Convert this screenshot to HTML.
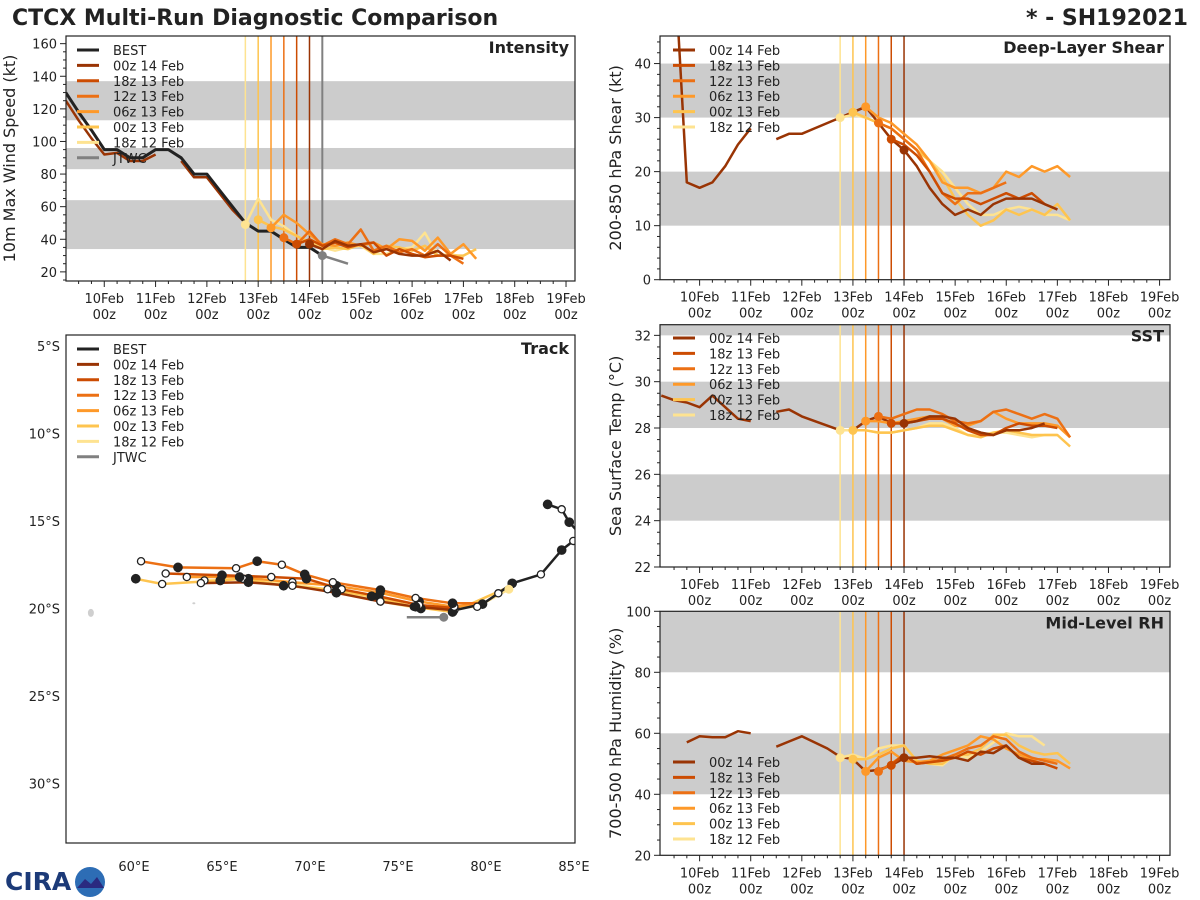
<!DOCTYPE html>
<html><head><meta charset="utf-8"><style>
html,body{margin:0;padding:0;background:#fff;}
svg{display:block;font-family:"DejaVu Sans","Liberation Sans",sans-serif;}
</style></head><body>
<svg id="chart" xmlns="http://www.w3.org/2000/svg" width="1200" height="900" viewBox="0 0 1200 900">
<text x="12" y="25" font-size="22" font-weight="bold" fill="#222">CTCX Multi-Run Diagnostic Comparison</text>
<text x="1188" y="25" font-size="22" font-weight="bold" fill="#222" text-anchor="end">* - SH192021</text>
<g>
<text x="5" y="890" font-size="25" font-weight="bold" fill="#1c3a78">CIRA</text>
<circle cx="90" cy="882" r="15" fill="#2d6db5"/>
<path d="M77 888 L85 879 L91 884 L97 877 L104 888 Z" fill="#2a2a80"/>
</g>
</svg>
<script>
const svg = document.getElementById('chart');
const NS = 'http://www.w3.org/2000/svg';
function mk(tag, attrs, parent){ const e=document.createElementNS(NS,tag); for(const k in attrs) e.setAttribute(k,attrs[k]); (parent||svg).appendChild(e); return e; }

// ---------- shared data ----------
const runLabels = ['00z 14 Feb','18z 13 Feb','12z 13 Feb','06z 13 Feb','00z 13 Feb','18z 12 Feb'];
const runColors = ['#993404','#cc4c02','#ec7014','#fe9929','#fec44f','#fee391'];
const runInit = [96,90,84,78,72,66];
const dayLabels = ['10Feb','11Feb','12Feb','13Feb','14Feb','15Feb','16Feb','17Feb','18Feb','19Feb'];

// Intensity (kt)
const bestTimes = [-18,-12,-6,0,6,12,18,24,30,36,42,48,54,60,66,72,78,84,90,96,102];
const bestVmax = [130,118,107,95,95,90,90,95,95,90,80,80,70,60,50,45,45,40,35,35,30];
const jtwcTimes = [102,114];
const jtwcVmax = [30,25];
const intHist = [125,113,102,92,93,88,88,92,null,88,78,78,68,58,50]; // from -18 step 6
const intRuns = [
 [37,34,39,36,37,32,34,31,30,30,33,27],
 [37,40,36,38,35,37,38,30,34,31,29,30,30,28],
 [41,37,45,36,40,37,46,33,36,32,34,30,37,30,25],
 [47,55,50,43,37,36,38,36,38,34,40,39,33,41,31,37,28],
 [52,48,46,42,38,34,35,34,37,31,36,35,33,36,30,30,30,34],
 [49,65,52,48,42,38,35,33,35,36,31,31,34,35,44,30,31,29]
];
// Shear (kt)
const shrHist = [60,18,17,18,21,25,28,null,26,27,27,28,29,30,31,32,29,26,24]; // from -12 step 6
const shrRuns = [
 [24,21,17,14,12,13,12,14,15,15,15,14,13],
 [26,25,23,20,16,15,15,14,15,16,15,16,14,13],
 [29,28,26,24,20,16,14,16,16,17,18],
 [32,30,29,27,25,22,18,17,17,16,17,20,19,21,20,21,19],
 [31,30,29,28,26,24,22,19,15,12,10,11,13,12,13,12,14,11],
 [30,30.5,30,29,28,26,24,22,20,17,14,12,12,13,13.5,13,12,12,11]
];
// SST (C)
const sstHist = [29.4,29.2,29.1,28.9,29.4,28.9,28.4,28.3,null,28.7,28.8,28.5,28.3,28.1,27.9,27.9,28.3,28.5,28.2,28.2]; // from -18
const sstRuns = [
 [28.2,28.3,28.5,28.5,28.4,28.0,27.8,27.7,27.9,27.9,28.0,28.2],
 [28.2,28.2,28.3,28.4,28.4,28.2,27.9,27.7,27.7,28.0,28.2,28.1,28.1,28.0],
 [28.5,28.4,28.6,28.8,28.8,28.6,28.3,28.2,28.3,28.7,28.8,28.6,28.4,28.6,28.4,27.6],
 [28.3,28.3,28.2,28.3,28.4,28.5,28.4,28.1,28.1,28.3,28.7,28.4,28.2,28.2,28.2,28.1,27.6],
 [27.9,27.9,27.8,27.8,27.9,28.0,28.1,28.1,27.9,27.7,27.6,27.8,27.9,27.8,27.7,27.7,27.7,27.2],
 [27.9,27.9,27.9,27.8,27.8,27.9,28.0,28.2,28.2,28.0,27.7,27.7,27.8,27.8,27.7,27.6,27.7,27.7]
];
// RH (%)
const rhHist = [57,59,58.7,58.7,60.7,60,null,55.6,57.3,59,57,55,52.3,51.5,47.5,48,49.5,51.8]; // from -6
const rhRuns = [
 [52,52,52.5,52,52,51,54,53.5,56,52,50,50],
 [49.5,53,50,50.5,51,52,54,53,55,56,52,51,50,48.5],
 [47.5,50,53,50,50.5,51.5,53,55,56,59,58,54,52,51,50],
 [47.5,52,54,51,50.5,51,53,54.5,56,59,58,55,53,51.5,51.5,51,48.5],
 [51.5,51.5,53,55,56,51,50,50,53,53,55,59.5,59.5,56,54,53,53.5,50],
 [52,53,51.5,55,56,56,51,50,49.5,53,52,54,57,60,59,59,56]
];
// Track (lon E, lat S)
const bestTrack = [[83.5,14.05],[84.3,14.33],[84.73,15.07],[85.3,15.7],[85.3,15.9],[84.96,16.14],[84.3,16.66],[83.12,18.05],[81.49,18.56],[80.7,19.13],[79.8,19.75],[78.2,20.1]];
const jtwcTrack = [[77.6,20.5],[75.5,20.5]];
const runTracks = [
 [[78.2,20.1],[76.0,19.9],[74.0,19.6],[71.5,19.1],[69.0,18.7],[66.5,18.5],[63.8,18.55]],
 [[78.5,20.0],[76.2,19.8],[73.9,19.3],[71.8,18.9],[69.8,18.3],[67.8,18.2],[65.0,18.1],[61.8,18.0]],
 [[79.8,19.7],[78.1,19.7],[76.0,19.4],[74.0,18.95],[71.3,18.5],[69.7,18.05],[68.4,17.5],[67.0,17.3],[65.8,17.7],[62.5,17.65],[60.4,17.3]],
 [[80.0,19.7],[78.2,19.9],[76.2,19.6],[74.0,19.1],[71.5,18.7],[69.0,18.5],[66.0,18.2],[63.0,18.2]],
 [[81.0,18.9],[78.1,20.2],[75.9,19.9],[73.5,19.3],[71.0,18.9],[68.5,18.7],[66.2,18.3],[64.9,18.4],[61.6,18.6],[60.1,18.3]],
 [[81.3,18.9],[79.5,19.9],[76.3,20.0],[74.0,19.6],[71.5,19.0],[69.0,18.6],[66.5,18.3],[64.0,18.4]]
];

// ---------- helpers ----------
function pathFrom(pts){ let d='',pen=false; for(const p of pts){ if(p==null){pen=false;continue;} d+=(pen?'L':'M')+p[0].toFixed(1)+' '+p[1].toFixed(1)+' '; pen=true;} return d; }

function timePanel(cfg){
  const g = mk('g',{});
  
  
  const X = t => cfg.x0 + (t - cfg.tmin)/(cfg.tmax-cfg.tmin)*(cfg.x1-cfg.x0);
  const Y = v => cfg.y1 - (v - cfg.vmin)/(cfg.vmax-cfg.vmin)*(cfg.y1-cfg.y0);
  const cp = mk('clipPath',{id:'clip-'+cfg.name},g);
  mk('rect',{x:cfg.x0,y:cfg.y0,width:cfg.x1-cfg.x0,height:cfg.y1-cfg.y0},cp);
  const inner = mk('g',{'clip-path':'url(#clip-'+cfg.name+')'},g);
  for(const b of cfg.bands){
    const r = mk('rect',{x:cfg.x0,y:Y(Math.min(b[1],cfg.vmax)),width:cfg.x1-cfg.x0,height:Y(b[0])-Y(Math.min(b[1],cfg.vmax)),fill:'#cccccc'},inner);
    
    
  }
  for(let i=5;i>=0;i--){
    const l = mk('line',{x1:X(runInit[i]),x2:X(runInit[i]),y1:cfg.y0,y2:cfg.y1,stroke:runColors[i],'stroke-width':1.5},inner);
    
    
  }
  if(cfg.jtwcLine){
    const l = mk('line',{x1:X(102),x2:X(102),y1:cfg.y0,y2:cfg.y1,stroke:'#808080','stroke-width':2},inner);
    
    
  }
  const hp = cfg.hist.map((v,i)=> v==null?null:[X(cfg.histStart+6*i),Y(v)]);
  const h = mk('path',{d:pathFrom(hp),fill:'none',stroke:runColors[0],'stroke-width':2.5,'stroke-linejoin':'round'},inner);
  
  
  if(cfg.best){
    const bp = bestTimes.map((t,i)=>[X(t),Y(bestVmax[i])]);
    const b = mk('path',{d:pathFrom(bp),fill:'none',stroke:'#222','stroke-width':3,'stroke-linejoin':'round'},inner);
    
    
    const jp = jtwcTimes.map((t,i)=>[X(t),Y(jtwcVmax[i])]);
    const j = mk('path',{d:pathFrom(jp),fill:'none',stroke:'#808080','stroke-width':2.5},inner);
    
    
    const jd = mk('circle',{cx:X(jtwcTimes[0]),cy:Y(jtwcVmax[0]),r:4.5,fill:'#808080'},inner);
    
    
  }
  for(let i=5;i>=0;i--){
    const pts = cfg.runs[i].map((v,k)=>[X(runInit[i]+6*k),Y(v)]);
    const p = mk('path',{d:pathFrom(pts),fill:'none',stroke:runColors[i],'stroke-width':2.5,'stroke-linejoin':'round'},inner);
    
    
  }
  for(let i=5;i>=0;i--){
    const d = mk('circle',{cx:X(runInit[i]),cy:Y(cfg.runs[i][0]),r:4.5,fill:runColors[i]},inner);
    
    
  }
  const f = mk('rect',{x:cfg.x0,y:cfg.y0,width:cfg.x1-cfg.x0,height:cfg.y1-cfg.y0,fill:'none',stroke:'#222','stroke-width':1.2},g);
  
  
  const kStart = Math.ceil(cfg.vmin/cfg.minor - 1e-6), kEnd = Math.floor(cfg.vmax/cfg.minor + 1e-6);
  const ratio = Math.round(cfg.major/cfg.minor);
  for(let k=kStart; k<=kEnd; k++){
    const vv = Math.round(k*cfg.minor*100)/100;
    const major = k % ratio === 0;
    const yy=Y(vv);
    mk('line',{x1:cfg.x0-(major?6:3),x2:cfg.x0,y1:yy,y2:yy,stroke:'#222','stroke-width':1},g);
    if(major){
      const t = mk('text',{x:cfg.x0-9,y:yy+5,'font-size':13,fill:'#222','text-anchor':'end'},g);
      t.textContent = String(vv);
      
      
    }
  }
  for(let t=-12; t<=cfg.tmax; t+=6){
    const major = t%24===0;
    const xx=X(t);
    mk('line',{x1:xx,x2:xx,y1:cfg.y1,y2:cfg.y1+(major?6:3),stroke:'#222','stroke-width':1},g);
  }
  dayLabels.forEach((lab,i)=>{
    const xx=X(24*i);
    const t1 = mk('text',{x:xx,y:cfg.y1+22,'font-size':13,fill:'#222','text-anchor':'middle'},g);
    t1.textContent = lab;
    
    
    const t2 = mk('text',{x:xx,y:cfg.y1+38,'font-size':13,fill:'#222','text-anchor':'middle'},g);
    t2.textContent = '00z';
    
    
  });
  const yl = mk('text',{x:0,y:0,'font-size':16,fill:'#222','text-anchor':'middle',transform:`translate(${cfg.ylx},${(cfg.y0+cfg.y1)/2}) rotate(-90)`},g);
  yl.textContent = cfg.ylabel;
  
  
  const tt = mk('text',{x:cfg.x1-6,y:cfg.y0+17,'font-size':16,'font-weight':'bold',fill:'#222','text-anchor':'end'},g);
  tt.textContent = cfg.title;
  
  
  legend(g, cfg.legX, cfg.legY, cfg.legBest);
}

function legend(g, lx, ly, withBest){
  const items=[];
  if(withBest) items.push(['BEST','#222']);
  runLabels.forEach((l,i)=>items.push([l,runColors[i]]));
  if(withBest) items.push(['JTWC','#808080']);
  const lg = mk('g',{},g);
  
  
  items.forEach((it,i)=>{
    const y = ly + i*15.4;
    mk('line',{x1:lx,x2:lx+22,y1:y,y2:y,stroke:it[1],'stroke-width':3},lg);
    const t = mk('text',{x:lx+36,y:y+5,'font-size':13,fill:'#222'},lg);
    t.textContent = it[0];
    
    
  });
}

timePanel({name:'intensity',x0:66,x1:575,y0:36,y1:281,tmin:-17.9,tmax:220.2,vmin:14.4,vmax:164.7,major:20,minor:5,
  bands:[[34,64],[83,96],[113,137]],hist:intHist,histStart:-18,runs:intRuns,best:true,jtwcLine:true,
  ylabel:'10m Max Wind Speed (kt)',ylx:15,title:'Intensity',legX:77,legY:50,legBest:true});
timePanel({name:'shear',x0:660,x1:1170,y0:36,y1:279.7,tmin:-18.6,tmax:220.9,vmin:0,vmax:45.1,major:10,minor:2,
  bands:[[10,20],[30,40]],hist:shrHist,histStart:-12,runs:shrRuns,
  ylabel:'200-850 hPa Shear (kt)',ylx:621,title:'Deep-Layer Shear',legX:673,legY:50,legBest:false});
timePanel({name:'sst',x0:660,x1:1170,y0:324.7,y1:567,tmin:-18.6,tmax:220.9,vmin:22,vmax:32.46,major:2,minor:0.5,
  bands:[[24,26],[28,30],[32,34]],hist:sstHist,histStart:-18,runs:sstRuns,
  ylabel:'Sea Surface Temp (°C)',ylx:621,title:'SST',legX:673,legY:338,legBest:false});
timePanel({name:'rh',x0:660,x1:1170,y0:611.3,y1:855.3,tmin:-18.6,tmax:220.9,vmin:20,vmax:100,major:20,minor:5,
  bands:[[40,60],[80,100]],hist:rhHist,histStart:-6,runs:rhRuns,
  ylabel:'700-500 hPa Humidity (%)',ylx:621,title:'Mid-Level RH',legX:673,legY:762,legBest:false});

// ---------- Track panel ----------
(function(){
  const x0=66,x1=575,y0=335,y1=843;
  const LX = lon => 134 + (lon-60)*17.6;
  const LY = lat => 346 + (lat-5)*17.5;
  const g = mk('g',{});
  
  
  const cp = mk('clipPath',{id:'clip-track'},g);
  mk('rect',{x:x0,y:y0,width:x1-x0,height:y1-y0},cp);
  const inner = mk('g',{'clip-path':'url(#clip-track)'},g);
  const isl1 = mk('ellipse',{cx:LX(57.55),cy:LY(20.25),rx:3,ry:4,fill:'#cfcfcf'},inner);
  
  
  const isl2 = mk('ellipse',{cx:LX(63.4),cy:LY(19.7),rx:1.5,ry:1,fill:'#cfcfcf'},inner);
  
  
  for(let i=5;i>=0;i--){
    const pts = runTracks[i].map(p=>[LX(p[0]),LY(p[1])]);
    const p = mk('path',{d:pathFrom(pts),fill:'none',stroke:runColors[i],'stroke-width':2.5,'stroke-linejoin':'round'},inner);
    
    
  }
  const jp = jtwcTrack.map(p=>[LX(p[0]),LY(p[1])]);
  const jt = mk('path',{d:pathFrom(jp),fill:'none',stroke:'#808080','stroke-width':2.5},inner);
  
  
  const bp = bestTrack.map(p=>[LX(p[0]),LY(p[1])]);
  const bt = mk('path',{d:pathFrom(bp),fill:'none',stroke:'#222','stroke-width':2.5,'stroke-linejoin':'round'},inner);
  
  
  const jd = mk('circle',{cx:LX(jtwcTrack[0][0]),cy:LY(jtwcTrack[0][1]),r:4.5,fill:'#808080'},inner);
  
  
  const drawDots = (arr, start) => arr.forEach((p,k)=>{
    const filled = (k+start)%2===0;
    const c = mk('circle',{cx:LX(p[0]),cy:LY(p[1]),r:filled?4.2:3.6,fill:filled?'#222':'#fff',stroke:'#222','stroke-width':1.3},inner);
    
    
  });
  bestTrack.forEach((p,k)=>{ if(k===3||k===4) return; const filled=k%2===0;
    const c = mk('circle',{cx:LX(p[0]),cy:LY(p[1]),r:filled?4.2:3.6,fill:filled?'#222':'#fff',stroke:'#222','stroke-width':1.3},inner);
    
    
  });
  for(let i=5;i>=0;i--) drawDots(runTracks[i].slice(1), i%2);
  const c0 = mk('circle',{cx:LX(runTracks[5][0][0]),cy:LY(runTracks[5][0][1]),r:4.5,fill:runColors[5]},inner);
  
  
  const f = mk('rect',{x:x0,y:y0,width:x1-x0,height:y1-y0,fill:'none',stroke:'#222','stroke-width':1.2},g);
  
  
  [60,65,70,75,80,85].forEach(lon=>{
    const t = mk('text',{x:LX(lon),y:871,'font-size':13,fill:'#222','text-anchor':'middle'},g);
    t.textContent = lon+'°E';
    
    
  });
  [5,10,15,20,25,30].forEach(lat=>{
    const t = mk('text',{x:60,y:LY(lat)+5,'font-size':13,fill:'#222','text-anchor':'end'},g);
    t.textContent = lat+'°S';
    
    
  });
  const tt = mk('text',{x:x1-6,y:y0+19,'font-size':16,'font-weight':'bold',fill:'#222','text-anchor':'end'},g);
  tt.textContent = 'Track';
  
  
  legend(g, 77, 349, true);
})();
</script>
</body></html>
